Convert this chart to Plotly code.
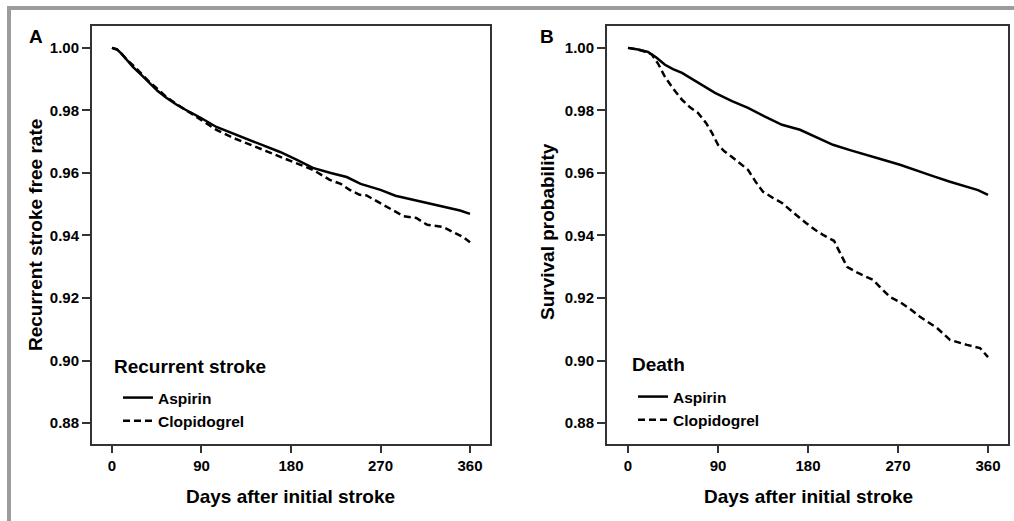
import plotly.graph_objects as go

W, H = 1014, 521
FONT = "Liberation Sans, Arial, Helvetica, sans-serif"

# ---------------- data ----------------
tick_days = [0, 90, 180, 270, 360]
tick_probs = [0.88, 0.90, 0.92, 0.94, 0.96, 0.98, 1.00]

# Panel A: recurrent stroke free rate
a_asp_days = [0, 5, 10, 15, 21, 30, 38, 46, 55, 65, 78, 90, 105, 120, 139, 150, 169, 186,
              202, 220, 236, 250, 270, 285, 303, 320, 337, 350, 360]
a_asp_rate = [1.000, 0.9995, 0.998, 0.996, 0.9939, 0.9912, 0.9888, 0.9862, 0.9840, 0.9818,
              0.9795, 0.9775, 0.9747, 0.9728, 0.9706, 0.9690, 0.9667, 0.9642, 0.9616, 0.9600,
              0.9587, 0.9565, 0.9546, 0.9527, 0.9514, 0.9503, 0.9491, 0.9480, 0.9469]

a_clo_days = [0, 5, 10, 15, 21, 30, 38, 46, 55, 65, 78, 90, 105, 122, 140, 155, 172, 186,
              202, 219, 230, 239, 249, 256, 266, 283, 293, 306, 317, 333, 343, 353, 360]
a_clo_rate = [1.000, 0.9995, 0.998, 0.9962, 0.9945, 0.9915, 0.9890, 0.9868, 0.9842, 0.9820,
              0.9793, 0.9770, 0.9738, 0.9712, 0.9690, 0.9670, 0.9648, 0.9630, 0.9610, 0.9578,
              0.9565, 0.9546, 0.9530, 0.9528, 0.9510, 0.9482, 0.9462, 0.9456, 0.9434, 0.9427,
              0.9410, 0.9395, 0.9378]

# Panel B: survival probability
b_asp_days = [0, 10, 20, 28, 37, 45, 54, 70, 87, 104, 120, 137, 154, 172, 187, 205, 222,
              239, 255, 272, 290, 305, 322, 339, 350, 360]
b_asp_prob = [1.000, 0.9995, 0.9987, 0.9970, 0.9946, 0.9932, 0.9920, 0.9888, 0.9856, 0.9830,
              0.9808, 0.9780, 0.9754, 0.9738, 0.9716, 0.9690, 0.9673, 0.9658, 0.9642, 0.9626,
              0.9605, 0.9590, 0.9572, 0.9555, 0.9545, 0.9530]

b_clo_days = [0, 10, 20, 24, 30, 37, 45, 54, 62, 70, 78, 84, 90, 96, 104, 112, 120, 128, 135,
              145, 154, 162, 170, 178, 187, 196, 206, 212, 219, 230, 245, 252, 262, 272, 282,
              292, 300, 309, 322, 330, 339, 352, 360]
b_clo_prob = [1.000, 0.9995, 0.9985, 0.9978, 0.9950, 0.9907, 0.9870, 0.9834, 0.9810, 0.9792,
              0.9760, 0.9728, 0.9690, 0.9670, 0.9651, 0.9630, 0.9610, 0.9570, 0.9540, 0.9520,
              0.9504, 0.9482, 0.9460, 0.9440, 0.9418, 0.9400, 0.9383, 0.9344, 0.9300, 0.9280,
              0.9258, 0.9235, 0.9203, 0.9187, 0.9165, 0.9140, 0.9122, 0.9104, 0.9066, 0.9058,
              0.9050, 0.9040, 0.9011]

series_names = ["Aspirin", "Clopidogrel"]
panel_legend_titles = ["Recurrent stroke", "Death"]
panel_letters = ["A", "B"]
y_titles = ["Recurrent stroke free rate", "Survival probability"]
x_title = "Days after initial stroke"

# ---------------- figure ----------------
def px_x(p):
    return p / W

def px_y(p):
    return 1 - p / H

fig = go.Figure()

solid = dict(color="black", width=2.5)
dashed = dict(color="black", width=2.5, dash="7px,4px")

fig.add_trace(go.Scatter(x=a_asp_days, y=a_asp_rate, mode="lines", line=solid,
                         name=series_names[0], xaxis="x", yaxis="y", legend="legend"))
fig.add_trace(go.Scatter(x=a_clo_days, y=a_clo_rate, mode="lines", line=dashed,
                         name=series_names[1], xaxis="x", yaxis="y", legend="legend"))
fig.add_trace(go.Scatter(x=b_asp_days, y=b_asp_prob, mode="lines", line=solid,
                         name=series_names[0], xaxis="x2", yaxis="y2", legend="legend2"))
fig.add_trace(go.Scatter(x=b_clo_days, y=b_clo_prob, mode="lines", line=dashed,
                         name=series_names[1], xaxis="x2", yaxis="y2", legend="legend2"))

frame = "#333333"
tickfont = dict(size=15, color="black", weight="bold")
common_x = dict(tickmode="array", tickvals=tick_days, ticks="outside", ticklen=7, tickwidth=1.5,
                tickcolor=frame, showline=True, mirror=True, linecolor=frame, linewidth=2,
                showgrid=False, zeroline=False, tickfont=tickfont, fixedrange=True)
common_y = dict(tickmode="array", tickvals=tick_probs, tickformat=".2f", ticks="outside",
                ticklen=8, tickwidth=1.5, tickcolor=frame, showline=True, mirror=True,
                linecolor=frame, linewidth=2, showgrid=False, zeroline=False,
                tickfont=tickfont, range=[0.8733, 1.0070], fixedrange=True)

legend_common = dict(xanchor="left", yanchor="top", bgcolor="rgba(0,0,0,0)", borderwidth=0,
                     font=dict(size=15.5, color="black", weight="bold"),
                     itemwidth=30, tracegroupgap=0)

dom_y = [px_y(444), px_y(26)]
fig.update_layout(
    width=W, height=H,
    margin=dict(l=0, r=0, t=0, b=0),
    paper_bgcolor="white", plot_bgcolor="white",
    font=dict(family=FONT, color="black"),
    xaxis=dict(domain=[px_x(92), px_x(490)], range=[-20.1, 380.1], anchor="y", **common_x),
    yaxis=dict(domain=dom_y, anchor="x", **common_y),
    xaxis2=dict(domain=[px_x(607), px_x(1008)], range=[-21, 380], anchor="y2", **common_x),
    yaxis2=dict(domain=dom_y, anchor="x2", **common_y),
    legend=dict(x=px_x(110), y=px_y(381), indentation=8, **legend_common),
    legend2=dict(x=px_x(628), y=px_y(380), indentation=5, **legend_common),
    showlegend=True,
)

ann = []
for letter, cx in zip(panel_letters, [36, 547]):
    ann.append(dict(text=letter, x=px_x(cx), y=px_y(36), xref="paper", yref="paper",
                    showarrow=False, xanchor="center", yanchor="middle",
                    font=dict(size=19, weight="bold", color="black")))
# legend headings
for t, lx, cy in zip(panel_legend_titles, [112, 630], [366, 364]):
    ann.append(dict(text=t, x=px_x(lx), y=px_y(cy), xref="paper", yref="paper",
                    showarrow=False, xanchor="left", yanchor="middle",
                    font=dict(size=19, weight="bold", color="black")))
for cx in [290, 808]:
    ann.append(dict(text=x_title, x=px_x(cx), y=px_y(496), xref="paper", yref="paper",
                    showarrow=False, xanchor="center", yanchor="middle",
                    font=dict(size=19, weight="bold", color="black")))
for t, cx, cy in zip(y_titles, [35, 548], [235, 232]):
    ann.append(dict(text=t, x=px_x(cx), y=px_y(cy), xref="paper", yref="paper",
                    showarrow=False, xanchor="center", yanchor="middle", textangle=-90,
                    font=dict(size=19, weight="bold", color="black")))
fig.update_layout(annotations=ann)

# gray outer frame of the figure panel
border = "#9c9c9c"
fig.update_layout(shapes=[
    dict(type="line", xref="paper", yref="paper", x0=px_x(7), x1=1, y0=px_y(8), y1=px_y(8),
         line=dict(color=border, width=4)),
    dict(type="line", xref="paper", yref="paper", x0=px_x(9), x1=px_x(9), y0=px_y(6), y1=0,
         line=dict(color=border, width=4)),
])

fig.write_html(
    "out.html",
    config={"displayModeBar": False},
    post_script="document.body.style.margin='0';document.body.style.padding='0';"
                "document.body.style.overflow='hidden';",
)
